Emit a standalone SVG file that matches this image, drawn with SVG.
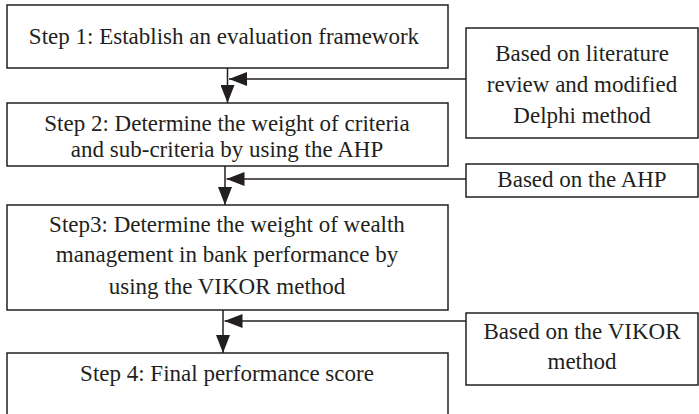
<svg xmlns="http://www.w3.org/2000/svg" width="699" height="414" viewBox="0 0 699 414">
  <style>
    .box { fill: #ffffff; stroke: #231f20; stroke-width: 1.5; }
    .lbl { font-family: "Liberation Serif", "Times New Roman", serif; font-size: 23px; fill: #231f20; text-anchor: middle; }
    .edge { fill: none; stroke: #231f20; stroke-width: 1.5; marker-end: url(#head); }
  </style>
  <defs>
    <marker id="head" viewBox="0 0 18 14" refX="18" refY="7" markerWidth="18" markerHeight="14" markerUnits="userSpaceOnUse" orient="auto">
      <path d="M0,0 L18,7 L0,14 Z" fill="#231f20"/>
    </marker>
  </defs>
  <rect width="699" height="414" fill="#ffffff"/>

  <!-- process steps -->
  <g id="step1">
    <rect class="box" x="7" y="5" width="441" height="63"/>
    <text class="lbl" x="224" y="44">Step 1: Establish an evaluation framework</text>
  </g>
  <g id="step2">
    <rect class="box" x="7" y="103" width="441" height="63"/>
    <text class="lbl" x="227" y="131">Step 2: Determine the weight of criteria</text>
    <text class="lbl" x="227" y="157">and sub-criteria by using the AHP</text>
  </g>
  <g id="step3">
    <rect class="box" x="7" y="205" width="441" height="105"/>
    <text class="lbl" x="227" y="232">Step3: Determine the weight of wealth</text>
    <text class="lbl" x="227" y="262">management in bank performance by</text>
    <text class="lbl" x="227" y="294">using the VIKOR method</text>
  </g>
  <g id="step4">
    <rect class="box" x="7" y="353" width="441" height="80"/>
    <text class="lbl" x="227" y="381">Step 4: Final performance score</text>
  </g>

  <!-- method notes -->
  <g id="note1">
    <rect class="box" x="466" y="28" width="232" height="110"/>
    <text class="lbl" x="582" y="61">Based on literature</text>
    <text class="lbl" x="582" y="92">review and modified</text>
    <text class="lbl" x="582" y="123">Delphi method</text>
  </g>
  <g id="note2">
    <rect class="box" x="466" y="164" width="232" height="33"/>
    <text class="lbl" x="582" y="187">Based on the AHP</text>
  </g>
  <g id="note3">
    <rect class="box" x="466" y="313" width="232" height="72"/>
    <text class="lbl" x="582" y="339">Based on the VIKOR</text>
    <text class="lbl" x="582" y="369">method</text>
  </g>

  <!-- connectors -->
  <g id="connectors">
    <path class="edge" d="M227.5,68 V103"/>
    <path class="edge" d="M466,79 H229"/>
    <path class="edge" d="M225,166 V205"/>
    <path class="edge" d="M466,179 H226.5"/>
    <path class="edge" d="M223,310 V353"/>
    <path class="edge" d="M466,321 H224.5"/>
  </g>
</svg>
